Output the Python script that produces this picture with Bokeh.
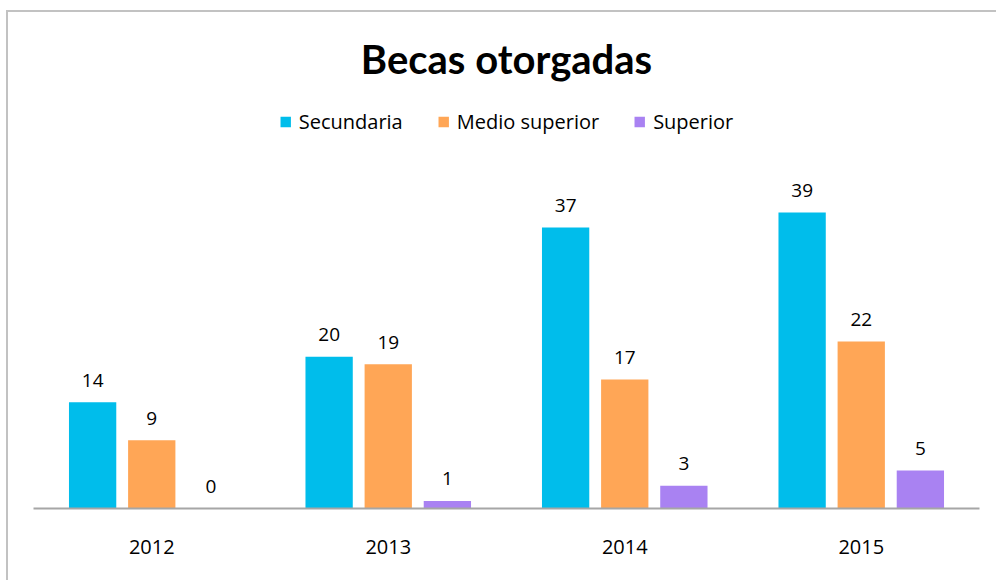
from bokeh.plotting import figure
from bokeh.models import ColumnDataSource, FactorRange, Range1d, InlineStyleSheet
from bokeh.transform import dodge
from bokeh.core.properties import value
from bokeh.embed import file_html
from bokeh.resources import INLINE

years = ["2012", "2013", "2014", "2015"]
secundaria = [14, 20, 37, 39]
medio_superior = [9, 19, 17, 22]
superior = [0, 1, 3, 5]
series_names = ["Secundaria", "Medio superior", "Superior"]
colors = ["#00BDEB", "#FFA656", "#A982F2"]

src = ColumnDataSource(dict(
    years=years,
    secundaria=secundaria,
    medio=medio_superior,
    superior=superior,
    secundaria_t=[str(v) for v in secundaria],
    medio_t=[str(v) for v in medio_superior],
    superior_t=[str(v) for v in superior],
))

TFONT = "Lato"
FONT = "Open Sans"

p = figure(
    width=988, height=572,
    x_range=FactorRange(*years, range_padding=0),
    y_range=Range1d(0, 54),
    output_backend="svg", toolbar_location=None,
    y_axis_location=None,
    min_border_left=33, min_border_right=9,
    min_border_top=98, min_border_bottom=64,
    title="Becas otorgadas",
)
p.title.align = "center"
p.title.text_font = TFONT
p.title.text_font_size = "40px"
p.title.text_font_style = "bold"
p.title.text_color = "#000000"
p.title.standoff = 31

p.outline_line_color = None
p.xgrid.visible = False
p.ygrid.visible = False

cols = ["secundaria", "medio", "superior"]
offsets = [-0.25, 0.0, 0.25]
for col, off, name, c in zip(cols, offsets, series_names, colors):
    xs = dodge("years", off, range=p.x_range)
    p.vbar(x=xs, top=col, width=0.2, source=src, color=c, line_color=None,
           legend_label=name)
    p.text(x=xs, y=col, text=col + "_t", source=src, text_align="center",
           text_baseline="alphabetic", y_offset=-22, text_font=value(FONT),
           text_font_size="19px", text_color="#000000")

ax = p.xaxis[0]
ax.axis_line_color = "#A6A6A6"
ax.axis_line_width = 2
ax.major_tick_line_color = None
ax.minor_tick_line_color = None
ax.major_label_text_font = FONT
ax.major_label_text_font_size = "20px"
ax.major_label_text_color = "#000000"
ax.major_label_standoff = 25

lg = p.legend[0]
lg.orientation = "horizontal"
lg.location = "top_center"
lg.border_line_color = None
lg.background_fill_alpha = 0
lg.label_text_font = FONT
lg.label_text_font_size = "20px"
lg.label_text_color = "#000000"
lg.glyph_width = 13
lg.glyph_height = 13
lg.spacing = 34
lg.label_standoff = 7
lg.margin = 10
lg.padding = 4

p.stylesheets = [InlineStyleSheet(css="""
:host::before {
  content: "";
  position: absolute;
  left: 6px; top: 10px; width: 1200px; height: 800px;
  background:
    linear-gradient(#C2C2C2, #C2C2C2) left top / 2px 100% no-repeat,
    linear-gradient(#C2C2C2, #C2C2C2) left top / 100% 2px no-repeat;
  pointer-events: none;
  z-index: 10;
}
""")]

open("out.html", "w").write(file_html(p, INLINE))
